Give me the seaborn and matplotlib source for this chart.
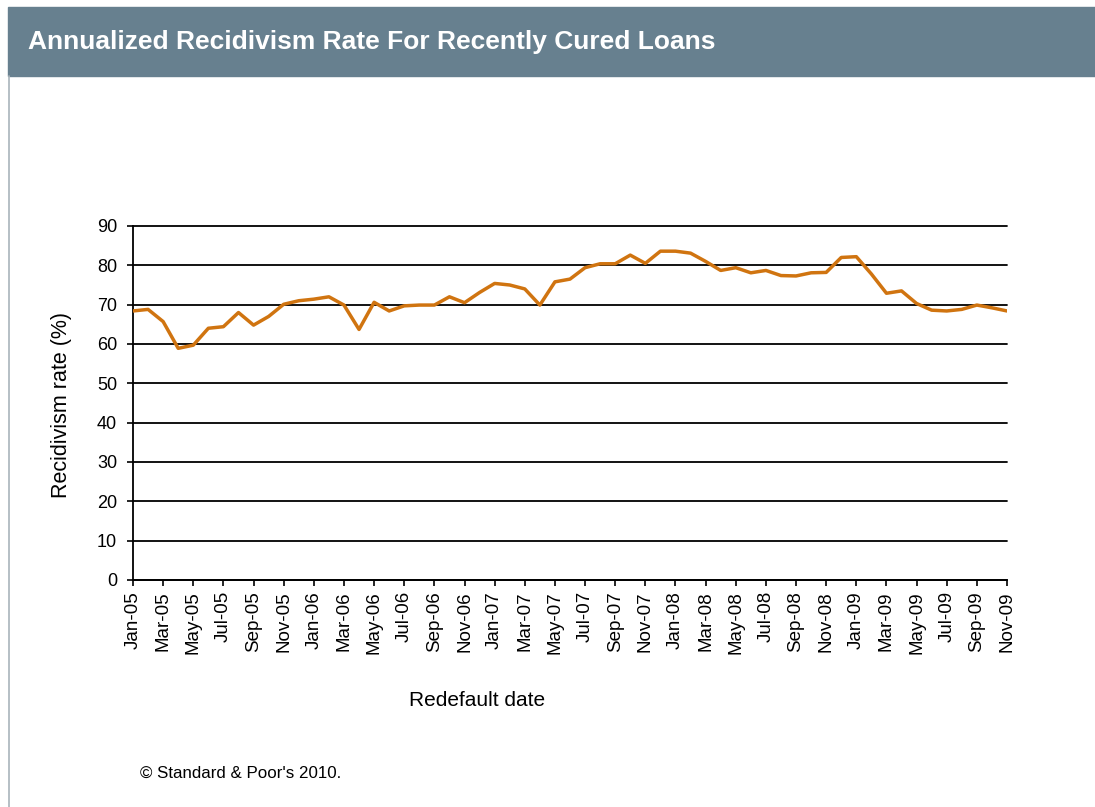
import pandas as pd
import matplotlib.pyplot as plt
import seaborn as sns
from matplotlib.patches import Rectangle
from matplotlib.lines import Line2D

# annualized recidivism rate (%), monthly Jan-05 .. Nov-09
rate = [68.4, 68.8, 65.7, 58.9, 59.7, 64.0, 64.4, 68.0, 64.8, 67.0,
        70.1, 71.0, 71.4, 72.0, 69.9, 63.7, 70.6, 68.4, 69.7, 69.9,
        69.9, 72.0, 70.5, 73.1, 75.4, 75.0, 74.0, 69.9, 75.8, 76.5,
        79.4, 80.4, 80.4, 82.6, 80.5, 83.6, 83.6, 83.1, 81.0, 78.7,
        79.4, 78.1, 78.7, 77.4, 77.3, 78.1, 78.2, 82.0, 82.2, 77.8,
        72.9, 73.5, 70.3, 68.6, 68.4, 68.8, 69.9, 69.2, 68.4]
start_month = '2005-01'
y_ticks = list(range(0, 91, 10))

title = 'Annualized Recidivism Rate For Recently Cured Loans'
y_label = 'Recidivism rate (%)'
x_label = 'Redefault date'
footer = "\u00a9 Standard & Poor's 2010."

months = pd.date_range(start_month, periods=len(rate), freq='MS')
df = pd.DataFrame({'idx': range(len(rate)), 'rate': rate,
                   'label': months.strftime('%b-%y')})

sns.set_style('white', {'text.color': 'black', 'xtick.color': 'black',
                        'ytick.color': 'black', 'axes.labelcolor': 'black'})
plt.rcParams['font.family'] = ['Liberation Sans', 'DejaVu Sans']

fig = plt.figure(figsize=(10.95, 8.07), dpi=100)
W, H = 1095, 807

# header band and left border
fig.patches.append(Rectangle((8 / W, 1 - 76 / H), 1, 69 / H,
                             transform=fig.transFigure, color='#67808f', zorder=0))
fig.add_artist(Line2D([8.5 / W, 8.5 / W], [0, 1 - 76 / H], transform=fig.transFigure,
                      color='#a9b4bb', lw=1.2))
fig.text(28 / W, 1 - 42 / H, title, color='white', fontsize=19, fontweight='bold',
         va='center', ha='left')

ax = fig.add_axes([133 / W, 1 - 580 / H, 874 / W, 354 / H])
sns.lineplot(data=df, x='idx', y='rate', ax=ax, color='#d07410', lw=2.5, zorder=3)

ax.set_xlim(0, len(rate) - 1)
ax.set_ylim(0, 90)
ax.set_yticks(y_ticks)
ax.set_xticks(df['idx'][::2])
ax.set_xticklabels(df['label'][::2], rotation=90, fontsize=13.5)
ax.tick_params(axis='y', labelsize=13, length=4.5, width=1.2, pad=7,
               direction='out', left=True, colors='black')
ax.tick_params(axis='x', length=4, width=1.2, pad=4, direction='out',
               bottom=True, colors='black')
ax.yaxis.grid(True, color='black', lw=1.3)
for gl in ax.get_ygridlines():
    gl.set_clip_on(False)
ax.set_axisbelow(True)
for s in ['top', 'right']:
    ax.spines[s].set_visible(False)
for s in ['left', 'bottom']:
    ax.spines[s].set_color('black')
    ax.spines[s].set_linewidth(1.3)
ax.set_xlabel('')
ax.set_ylabel('')

fig.text(62 / W, 1 - 405 / H, y_label, fontsize=15.5, rotation=90,
         ha='center', va='center', color='black')
fig.text(477 / W, 1 - 700 / H, x_label, fontsize=15, ha='center', va='center',
         color='black')
fig.text(140 / W, 1 - 773 / H, footer, fontsize=12.2, ha='left', va='center',
         color='black')

fig.savefig('out.png', dpi=100)
